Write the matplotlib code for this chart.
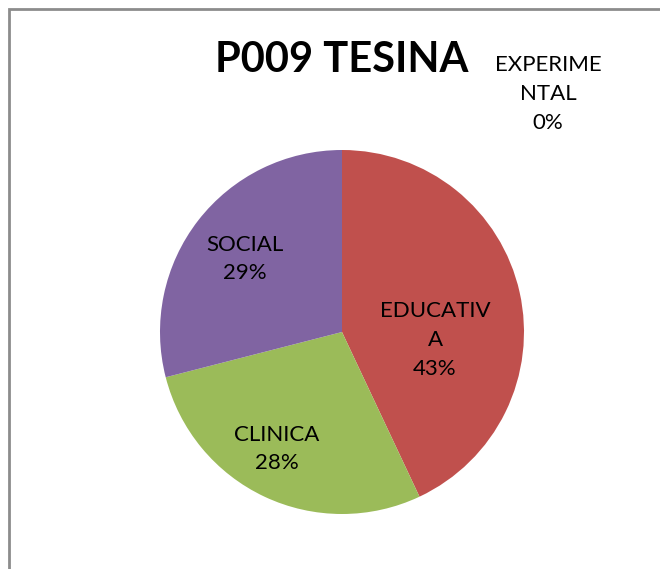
import matplotlib

matplotlib.use("Agg")
import matplotlib.pyplot as plt
from matplotlib.patches import Rectangle

plt.rcParams["font.family"] = ["Lato", "DejaVu Sans"]

categories = ["EXPERIME\nNTAL", "EDUCATIV\nA", "CLINICA", "SOCIAL"]
shares = [0, 43, 28, 29]
colors = ["#4F81BD", "#C0504D", "#9BBB59", "#8064A2"]

W, H = 660, 569
fig = plt.figure(figsize=(W / 100, H / 100), dpi=100)
fig.patch.set_facecolor("white")
ax = fig.add_axes([0, 0, 1, 1])

cx, cy, r = 342, H - 332, 182
wedges, _ = ax.pie(
    shares,
    colors=colors,
    startangle=90,
    counterclock=False,
    center=(cx, cy),
    radius=r,
    wedgeprops=dict(linewidth=0),
)
ax.set_xlim(0, W)
ax.set_ylim(0, H)
ax.set_aspect("equal")
ax.axis("off")

# chart area border, cut off by the right and bottom edges
ax.add_patch(Rectangle((8.5, -20), W, H - 8.5 + 20, fill=False,
                       edgecolor="#8c8c8c", linewidth=2))

ax.text(342, H - 60, "P009 TESINA", ha="center", va="center",
        fontsize=30, fontweight="bold", color="black")

# label centre offsets from the pie centre, in pixels (x right, y down)
offsets = [(206, -238), (93, 8), (-65, 117), (-97, -73)]
for name, val, (dx, dy) in zip(categories, shares, offsets):
    ax.text(cx + dx, cy - dy, f"{name}\n{val}%", ha="center", va="center",
            fontsize=16, linespacing=1.55, color="black")

fig.savefig("out.png", dpi=100, facecolor="white")
